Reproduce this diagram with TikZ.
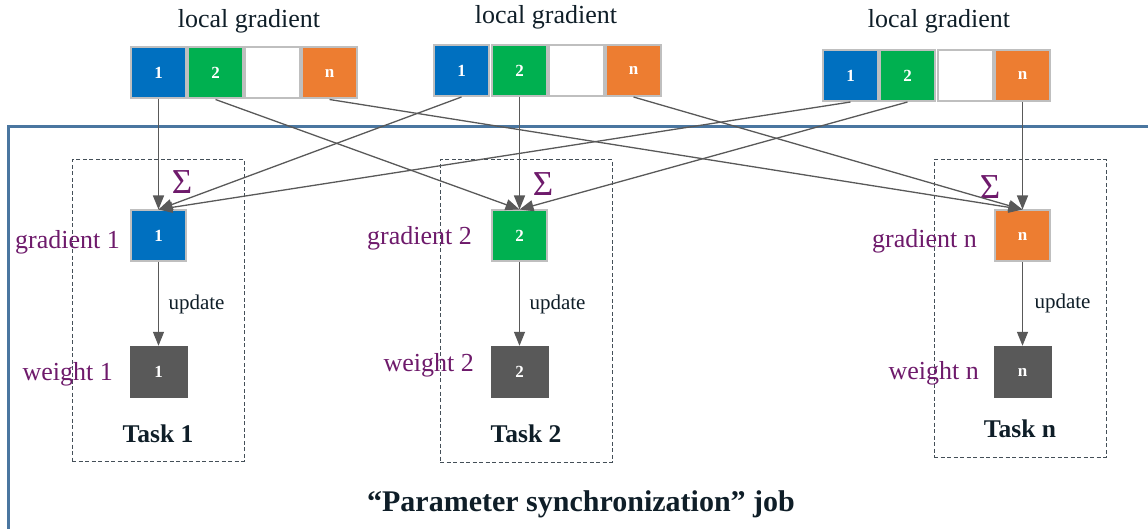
\documentclass[tikz,border=0pt]{standalone}
\usepackage{fontspec}
\setmainfont{Liberation Serif}
\usetikzlibrary{arrows.meta}
\definecolor{cblue}{HTML}{0070C0}
\definecolor{cgreen}{HTML}{00B050}
\definecolor{corange}{HTML}{ED7D31}
\definecolor{cgray}{HTML}{595959}
\definecolor{cborder}{HTML}{BFBFBF}
\definecolor{cpurple}{HTML}{6E1A6B}
\definecolor{cframe}{HTML}{4A76A0}
\definecolor{cdark}{HTML}{0F1E28}
\definecolor{cdash}{HTML}{444F58}
\tikzset{
  cell/.style={draw=cborder, line width=2pt, minimum width=55pt, minimum height=51pt, inner sep=0pt,
    text=white, font=\fontsize{17}{19}\selectfont\bfseries},
  wbox/.style={fill=cgray, minimum width=58pt, minimum height=52pt, inner sep=0pt,
    text=white, font=\fontsize{17}{19}\selectfont\bfseries},
  toplabel/.style={text=cdark, font=\fontsize{26}{30}\selectfont},
  plabel/.style={text=cpurple, font=\fontsize{26}{30}\selectfont, anchor=east, inner sep=0pt},
  sigma/.style={text=cpurple, font=\fontsize{35}{38}\selectfont},
  updlabel/.style={text=cdark, font=\fontsize{21}{24}\selectfont, anchor=west},
  tasklabel/.style={text=cdark, font=\fontsize{25.5}{30}\selectfont\bfseries},
  taskbox/.style={draw=cdash, line width=1pt, dash pattern=on 4pt off 2.5pt},
  conn/.style={draw=cgray, line width=1.3pt, -{Triangle[length=14pt,width=11pt]}},
}
\begin{document}
\begin{tikzpicture}[x=1pt,y=-1pt]
\useasboundingbox (0,0) rectangle (1148,529);
% outer frame
\draw[cframe, line width=3pt] (8,529) -- (8,127) -- (1148,127);
% top arrays
\node[toplabel] (lg1) at (249,21) {local gradient};
\node[toplabel] (lg2) at (546,17) {local gradient};
\node[toplabel] (lg3) at (939,21) {local gradient};
\node[cell, fill=cblue] (a1c1) at (158.5,73) {1};
\node[cell, fill=cgreen] (a1c2) at (215.5,73) {2};
\node[cell, fill=white] (a1c3) at (272.5,73) {};
\node[cell, fill=corange] (a1cn) at (329.5,73) {n};
\node[cell, fill=cblue] (a2c1) at (461.5,70.5) {1};
\node[cell, fill=cgreen] (a2c2) at (519.5,70.5) {2};
\node[cell, fill=white] (a2c3) at (576.5,70.5) {};
\node[cell, fill=corange] (a2cn) at (633.5,70.5) {n};
\node[cell, fill=cblue] (a3c1) at (850.5,75.5) {1};
\node[cell, fill=cgreen] (a3c2) at (907.5,75.5) {2};
\node[cell, fill=white] (a3c3) at (965,75.5) {};
\node[cell, fill=corange] (a3cn) at (1022.5,75.5) {n};
% task boxes
\node[taskbox, minimum width=172pt, minimum height=301pt, inner sep=0pt] (t1) at (158,310.5) {};
\node[taskbox, minimum width=172pt, minimum height=302pt, inner sep=0pt] (t2) at (526,311) {};
\node[taskbox, minimum width=172pt, minimum height=297pt, inner sep=0pt] (tn) at (1020,308.5) {};
% gradient boxes
\node[cell, fill=cblue] (g1) at (158.5,236) {1};
\node[cell, fill=cgreen] (g2) at (519.5,236) {2};
\node[cell, fill=corange] (gn) at (1022.5,236) {n};
% weight boxes
\node[wbox] (w1) at (158.5,372) {1};
\node[wbox] (w2) at (519.5,372) {2};
\node[wbox] (wn) at (1022.5,372) {n};
% labels
\node[plabel] (gl1) at (120,242) {gradient 1};
\node[plabel] (gl2) at (472,238) {gradient 2};
\node[plabel] (gln) at (977,241) {gradient n};
\node[plabel] (wl1) at (113,374) {weight 1};
\node[plabel] (wl2) at (474,365) {weight 2};
\node[plabel] (wln) at (979,373) {weight n};
\node[sigma] (s1) at (182,182) {Σ};
\node[sigma] (s2) at (543,184) {Σ};
\node[sigma] (sn) at (990,187) {Σ};
\node[updlabel] (u1) at (165,304) {update};
\node[updlabel] (u2) at (526,304) {update};
\node[updlabel] (un) at (1031,303) {update};
\node[tasklabel] (tl1) at (158,434) {Task 1};
\node[tasklabel] (tl2) at (526,434) {Task 2};
\node[tasklabel] (tln) at (1020,429) {Task n};
\node[tasklabel, font=\fontsize{30}{34}\selectfont\bfseries] (job) at (581,504) {“Parameter synchronization” job};
% connectors
\draw[conn] (a1c1.south) -- (g1.north);
\draw[conn] (a2c1.south) -- (g1.north);
\draw[conn] (a3c1.south) -- (g1.north);
\draw[conn] (a1c2.south) -- (g2.north);
\draw[conn] (a2c2.south) -- (g2.north);
\draw[conn] (a3c2.south) -- (g2.north);
\draw[conn] (a1cn.south) -- (gn.north);
\draw[conn] (a2cn.south) -- (gn.north);
\draw[conn] (a3cn.south) -- (gn.north);
\draw[conn] (g1.south) -- (w1.north);
\draw[conn] (g2.south) -- (w2.north);
\draw[conn] (gn.south) -- (wn.north);
\end{tikzpicture}
\end{document}
